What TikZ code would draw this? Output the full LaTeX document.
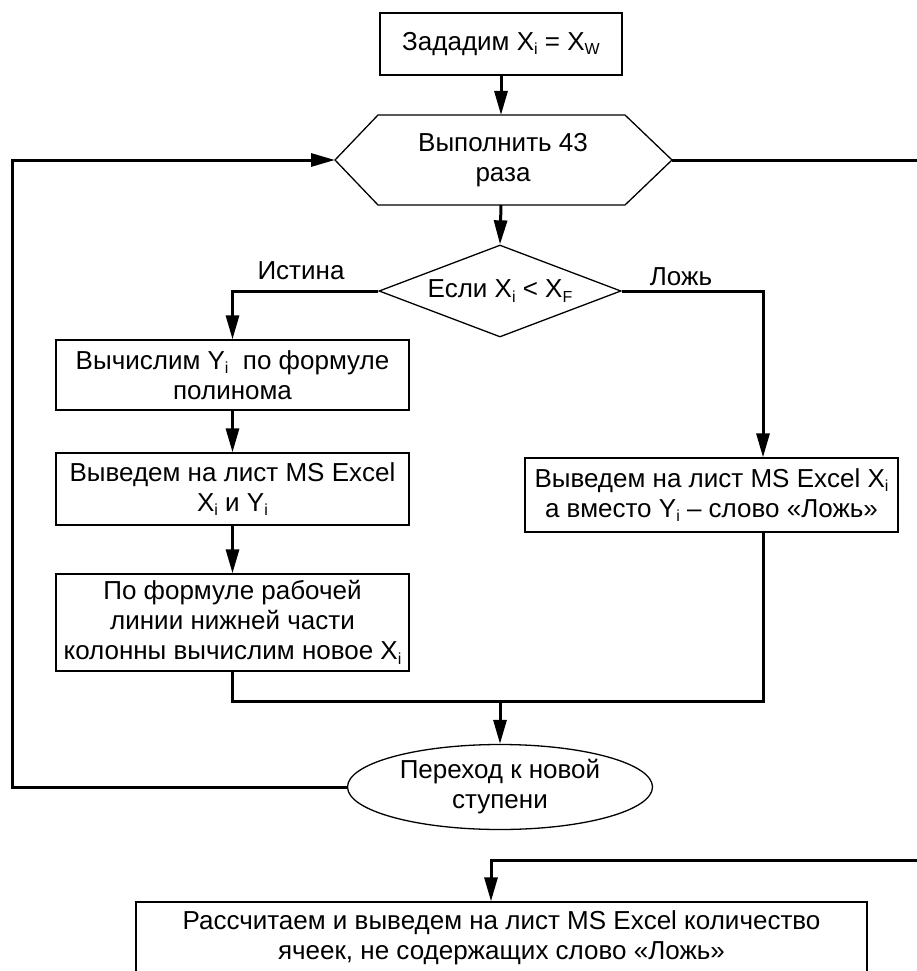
\documentclass[tikz,border=0pt]{standalone}
\usepackage{fontspec}
\setmainfont{Liberation Sans}
\usetikzlibrary{shapes.geometric,arrows.meta,calc}
\newcommand\lowidx[1]{\raisebox{-4.5pt}{\fontsize{16}{16}\selectfont #1}}
\begin{document}
\begin{tikzpicture}[x=1pt,y=-1pt,
  every node/.style={font=\fontsize{26}{30}\selectfont, align=center},
  blk/.style={draw, line width=1.3pt, fill=white, inner sep=0pt},
  conn/.style={line width=3pt},
  arr/.style={conn, -{Triangle[length=24pt,width=13pt]}},
  lbl/.style={inner sep=0pt}
]
\useasboundingbox (0,0) rectangle (917,971);
\clip (0,0) rectangle (917,971);

% start box
\node[blk, minimum width=242pt, minimum height=62pt] (start) at (501,44) {Зададим X\lowidx{i} = X\lowidx{W}};

% loop hexagon
\coordinate (loopW) at (335,160);
\coordinate (loopE) at (672,160);
\coordinate (loopN) at (501,115);
\coordinate (loopS) at (501,205);
\draw[line width=1.3pt, fill=white] (loopW) -- (378,115) -- (625,115) -- (loopE) -- (625,205) -- (378,205) -- cycle;
\node[lbl] (loop) at (503,160) {Выполнить 43\\раза};

% decision
\node[blk, diamond, aspect=2.63, minimum width=242pt, minimum height=92pt] (dia) at (500,291) {Если X\lowidx{i} < X\lowidx{F}};
\node[lbl] (ist) at (301,271) {Истина};
\node[lbl] (lozh) at (681,277) {Ложь};

% left column
\node[blk, minimum width=353pt, minimum height=70pt] (b1) at (232.5,375) {Вычислим Y\lowidx{i}\ \ по формуле\\полинома};
\node[blk, minimum width=353pt, minimum height=72pt] (b2) at (232.5,489) {Выведем на лист MS Excel\\X\lowidx{i} и Y\lowidx{i}};
\node[blk, minimum width=353pt, minimum height=97pt] (b3) at (232.5,622.5) {По формуле рабочей\\линии нижней части\\колонны вычислим новое X\lowidx{i}};

% right box
\node[blk, minimum width=373pt, minimum height=74pt] (rb) at (711.5,495) {Выведем на лист MS Excel X\lowidx{i}\\а вместо Y\lowidx{i} -- слово «Ложь»};

% ellipse
\node[blk, ellipse, minimum width=305pt, minimum height=85pt] (ell) at (500,787) {Переход к новой\\ступени};

% final box
\node[blk, minimum width=731pt, minimum height=72pt] (fin) at (501.5,938) {Рассчитаем и выведем на лист MS Excel количество\\ячеек, не содержащих слово «Ложь»};

% helper coordinates
\coordinate (rcol) at (763,0);
\coordinate (m) at (500,701);
\coordinate (lx) at (12,160);
\coordinate (rx1) at (917,160);
\coordinate (rx2) at (917,860);
\coordinate (fx) at (491,860);

% connectors
\draw[arr] (start.south) -- (loopN);
\draw[arr] (loopS) -- (dia.north);
\draw[arr] (dia.west) -| (b1.north);
\draw[arr] (dia.east) -| (rcol |- rb.north);
\draw[arr] (b1.south) -- (b2.north);
\draw[arr] (b2.south) -- (b3.north);
\draw[conn] (b3.south) |- (rcol |- m) -- (rcol |- rb.south);
\draw[arr] (m) -- (ell.north);
\draw[arr] (ell.west) -| (lx) -- (loopW);
\draw[conn] (loopE) -- (rx1);
\draw[arr] (rx2) -- (fx) -- (fx |- fin.north);
\end{tikzpicture}
\end{document}
